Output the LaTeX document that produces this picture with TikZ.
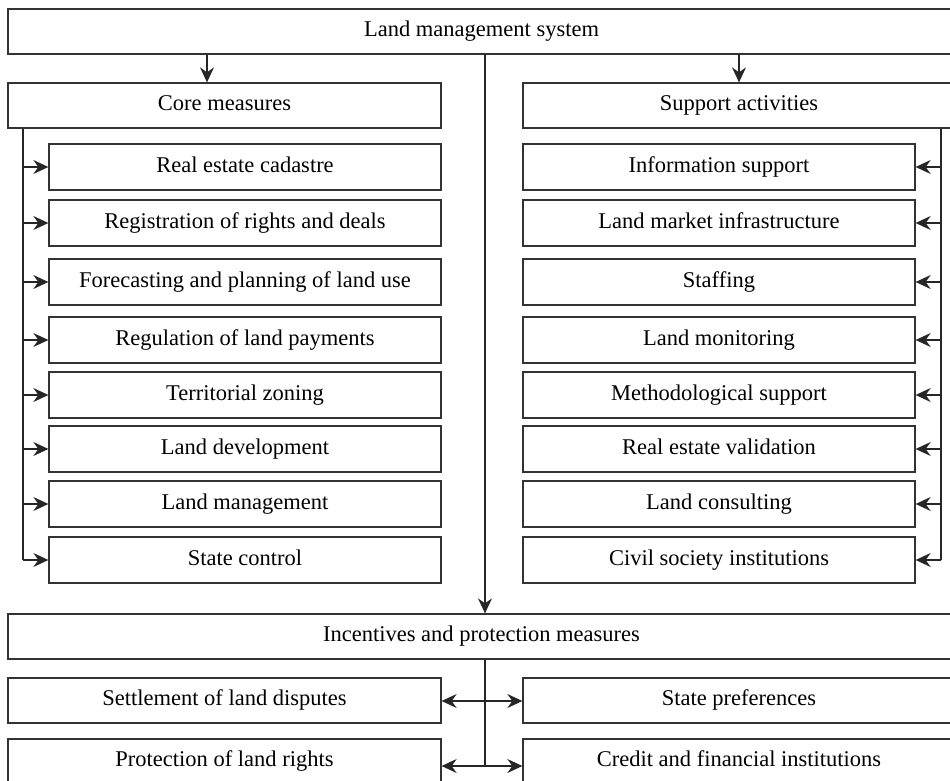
\documentclass[tikz,border=0pt]{standalone}
\usepackage{fontspec}
\setmainfont{Liberation Serif}
\usetikzlibrary{arrows.meta,calc}
\begin{document}
\begin{tikzpicture}[x=1pt,y=-1pt,
  box/.style={draw=black!80,line width=1.3pt,inner sep=0pt,align=center,
    text height=15pt,text depth=5pt,
    font=\fontsize{22.5}{27}\selectfont},
  lbox/.style={box,minimum width=392pt,minimum height=46pt},
  arr/.style={draw=black!85,line width=1.3pt,-{Stealth[length=15pt,width=14pt,inset=5pt]}},
  darr/.style={draw=black!85,line width=1.3pt,{Stealth[length=15pt,width=14pt,inset=5pt]}-{Stealth[length=15pt,width=14pt,inset=5pt]}},
  ln/.style={draw=black!85,line width=1.3pt}]
\useasboundingbox (0,0) rectangle (950,781);
\clip (0,0) rectangle (950,781);
\fill[white] (0,0) rectangle (950,781);
% top level
\node[box,minimum width=947pt,minimum height=45pt] (top) at (481.5,31.5) {Land management system};
\node[box,minimum width=433pt,minimum height=45pt] (core) at (224.5,105.5) {Core measures};
\node[box,minimum width=432pt,minimum height=45pt] (supp) at (739,105.5) {Support activities};
% left children
\node[lbox] (l1) at (245,167) {Real estate cadastre};
\node[lbox] (l2) at (245,223) {Registration of rights and deals};
\node[lbox] (l3) at (245,282) {Forecasting and planning of land use};
\node[lbox] (l4) at (245,340) {Regulation of land payments};
\node[lbox] (l5) at (245,395) {Territorial zoning};
\node[lbox] (l6) at (245,449) {Land development};
\node[lbox] (l7) at (245,504) {Land management};
\node[lbox] (l8) at (245,560) {State control};
% right children
\node[lbox] (r1) at (719,167) {Information support};
\node[lbox] (r2) at (719,223) {Land market infrastructure};
\node[lbox] (r3) at (719,282) {Staffing};
\node[lbox] (r4) at (719,340) {Land monitoring};
\node[lbox] (r5) at (719,395) {Methodological support};
\node[lbox] (r6) at (719,449) {Real estate validation};
\node[lbox] (r7) at (719,504) {Land consulting};
\node[lbox] (r8) at (719,560) {Civil society institutions};
% incentives
\node[box,minimum width=947pt,minimum height=45pt] (inc) at (481.5,636.5) {Incentives and protection measures};
\node[box,minimum width=433pt,minimum height=45pt] (b1) at (224.5,700.5) {Settlement of land disputes};
\node[box,minimum width=433pt,minimum height=45pt] (b2) at (224.5,761.5) {Protection of land rights};
\node[box,minimum width=432pt,minimum height=45pt] (b3) at (739,700.5) {State preferences};
\node[box,minimum width=432pt,minimum height=45pt] (b4) at (739,761.5) {Credit and financial institutions};
% coordinates
\coordinate (cx) at (485,0);
\coordinate (lx) at (23,0);
\coordinate (rx) at (941,0);
\coordinate (ca) at (207,0);
\coordinate (y1) at (0,701);
\coordinate (y2) at (0,766);
% top arrows
\draw[arr] (top.south -| ca) -- (core.north -| ca);
\draw[arr] (top.south -| supp.north) -- (supp.north);
\draw[arr] (top.south -| cx) -- (inc.north -| cx);
% left spine
\draw[ln] (core.south -| lx) -- (l8.west -| lx);
\foreach \n in {l1,l2,l3,l4,l5,l6,l7,l8}
  \draw[arr] (\n.west -| lx) -- (\n.west);
% right spine
\draw[ln] (supp.south -| rx) -- (r8.east -| rx);
\foreach \n in {r1,r2,r3,r4,r5,r6,r7,r8}
  \draw[arr] (\n.east -| rx) -- (\n.east);
% bottom
\draw[ln] (inc.south -| cx) -- (cx |- y2);
\draw[darr] (b1.east |- y1) -- (b3.west |- y1);
\draw[darr] (b2.east |- y2) -- (b4.west |- y2);
\end{tikzpicture}
\end{document}
